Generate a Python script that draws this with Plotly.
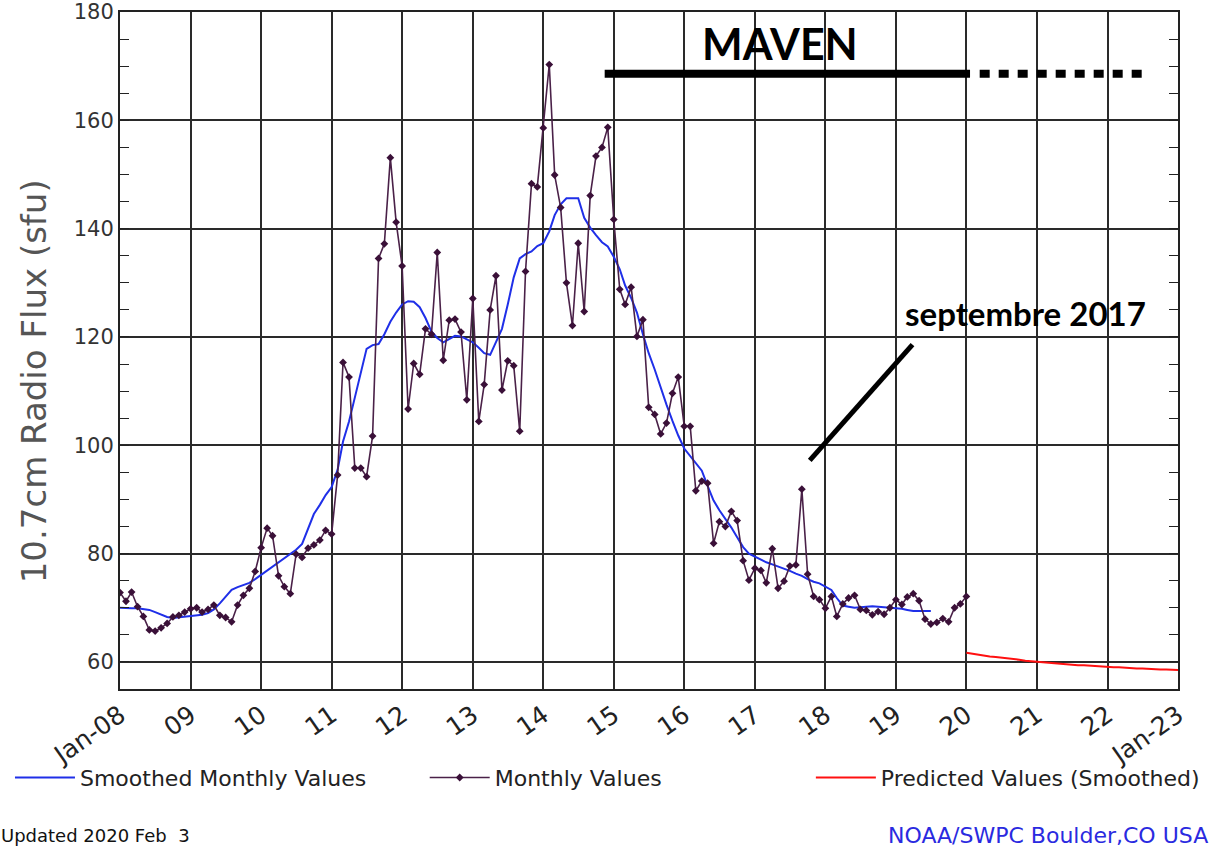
import pandas as pd
import plotly.graph_objects as go

# Observed monthly 10.7cm flux, Jan 2008 .. Jan 2020 (sfu)
monthly_values = [
    72.8, 71.2, 72.9, 70.2, 68.4, 65.9, 65.7, 66.3, 67.1, 68.3, 68.6, 69.2,
    69.8, 70.0, 69.2, 69.7, 70.5, 68.6, 68.2, 67.4, 70.5, 72.3, 73.6, 76.7,
    81.1, 84.7, 83.3, 75.9, 73.9, 72.6, 79.9, 79.3, 81.0, 81.6, 82.5, 84.3,
    83.6, 94.5, 115.3, 112.6, 95.8, 95.8, 94.2, 101.7, 134.5, 137.2, 153.1, 141.2,
    133.1, 106.7, 115.1, 113.1, 121.5, 120.5, 135.6, 115.7, 123.1, 123.3, 120.9, 108.4,
    127.1, 104.4, 111.2, 125.0, 131.3, 110.2, 115.6, 114.7, 102.6, 132.1, 148.3, 147.7,
    158.6, 170.3, 149.9, 143.9, 130.0, 122.1, 137.3, 124.7, 146.1, 153.4, 155.0, 158.7,
    141.7, 128.8, 126.0, 129.2, 120.1, 123.2, 107.0, 105.7, 102.1, 104.1, 109.6, 112.6,
    103.5, 103.5, 91.6, 93.4, 93.0, 81.9, 85.9, 85.0, 87.8, 86.1, 78.7, 75.1,
    77.3, 76.9, 74.6, 80.9, 73.6, 74.9, 77.7, 77.9, 91.9, 76.2, 72.1, 71.5,
    69.9, 72.1, 68.4, 70.7, 71.8, 72.3, 69.7, 69.5, 68.7, 69.3, 68.8, 70.0,
    71.5, 70.6, 72.0, 72.6, 71.3, 67.9, 67.0, 67.3, 68.0, 67.4, 70.0, 70.7,
    72.1,
]

# 13-month smoothed values, Jan 2008 .. Jul 2019
smoothed_values = [
    70.0, 69.9, 69.9, 69.9, 69.8, 69.6, 69.2, 68.8, 68.3, 68.1, 68.2, 68.3,
    68.4, 68.5, 68.7, 69.0, 69.7, 70.8, 72.0, 73.3, 73.8, 74.2, 74.6, 75.3,
    76.1, 76.8, 77.6, 78.4, 79.2, 79.9, 80.7, 81.8, 84.5, 87.3, 89.0, 90.8,
    92.3, 95.5, 100.7, 104.4, 108.8, 113.5, 117.8, 118.5, 118.7, 120.5, 122.8, 124.5,
    126.0, 126.6, 126.5, 125.5, 123.5, 121.0, 119.8, 119.0, 119.6, 120.2, 120.1, 119.6,
    119.0, 118.0, 117.0, 116.7, 119.0, 121.5, 126.0, 131.0, 134.5, 135.3, 135.8, 136.8,
    137.3, 139.5, 142.5, 144.5, 145.6, 145.6, 145.6, 142.0, 140.2, 138.8, 137.5, 136.7,
    134.8, 132.5, 129.5, 127.2, 124.5, 120.5, 117.0, 114.0, 110.6, 107.5, 104.5, 101.8,
    99.4, 98.0, 96.5, 95.3, 92.5, 89.8, 88.0, 86.5, 84.8, 83.0, 81.2, 80.0,
    79.4, 78.9, 78.4, 78.0, 77.6, 77.3, 76.8, 76.3, 75.9, 75.3, 74.8, 74.5,
    73.9, 73.3, 71.8, 70.4, 70.2, 70.0, 70.1, 70.2, 70.3, 70.2, 70.1, 70.0,
    70.0, 69.8, 69.6, 69.4, 69.4, 69.4, 69.4,
]

# Predicted smoothed values, Jan 2020 .. Jan 2023
predicted_values = [
    61.7, 61.5, 61.3, 61.2, 61.0, 60.9, 60.8, 60.6, 60.5, 60.4, 60.2, 60.1,
    60.0, 59.9, 59.8, 59.8, 59.7, 59.6, 59.5, 59.4, 59.4, 59.3, 59.2, 59.2,
    59.1, 59.0, 59.0, 58.9, 58.9, 58.8, 58.8, 58.7, 58.7, 58.6, 58.6, 58.5,
    58.5,
]

tick_years = list(range(2008, 2024))
tick_labels = ["Jan-08", "09", "10", "11", "12", "13", "14", "15", "16",
               "17", "18", "19", "20", "21", "22", "Jan-23"]

monthly_dates = pd.date_range("2008-01-01", periods=len(monthly_values), freq="MS")
smoothed_dates = pd.date_range("2008-01-01", periods=len(smoothed_values), freq="MS")
predicted_dates = pd.date_range("2020-01-01", periods=len(predicted_values), freq="MS")

fig = go.Figure()

fig.add_trace(go.Scatter(
    x=smoothed_dates, y=smoothed_values, mode="lines",
    name="Smoothed Monthly Values", legend="legend",
    line=dict(color="#1f2fe8", width=2),
))
fig.add_trace(go.Scatter(
    x=monthly_dates, y=monthly_values, mode="lines+markers",
    name="Monthly Values", legend="legend2",
    line=dict(color="#4a2148", width=1.6),
    marker=dict(symbol="diamond", size=6, color="#3a1038"),
))
fig.add_trace(go.Scatter(
    x=predicted_dates, y=predicted_values, mode="lines",
    name="Predicted Values (Smoothed)", legend="legend3",
    line=dict(color="#ff1010", width=2),
))

# MAVEN mission bar and "septembre 2017" pointer
fig.add_shape(type="line", xref="x", yref="y",
              x0="2014-11-15", x1="2020-01-20", y0=168.6, y1=168.6,
              line=dict(color="black", width=8))
fig.add_shape(type="line", xref="x", yref="y",
              x0="2020-03-10", x1="2022-08-01", y0=168.6, y1=168.6,
              line=dict(color="black", width=8, dash="10px,9px"))
fig.add_shape(type="line", xref="x", yref="y",
              x0="2017-10-12", x1="2019-03-28", y0=97.2, y1=118.6,
              line=dict(color="black", width=5))

fig.add_annotation(x="2017-05-12", y=174.2, xref="x", yref="y",
                   text="<b>MAVEN</b>", showarrow=False,
                   font=dict(family="Lato", size=43, color="black"))
fig.add_annotation(x="2019-02-06", y=124.4, xref="x", yref="y",
                   text="<b>septembre 2017</b>", showarrow=False, xanchor="left",
                   font=dict(family="Lato", size=33, color="black"))

# y-axis title placed as rotated text (sits a little below the plot centre)
fig.add_annotation(x=-0.081, y=0.455, xref="paper", yref="paper",
                   text="10.7cm Radio Flux (sfu)", showarrow=False, textangle=-90,
                   xanchor="center", yanchor="middle",
                   font=dict(family="DejaVu Sans", size=34, color="#555"))

fig.add_annotation(x=-0.1145, y=-0.217, xref="paper", yref="paper",
                   text="Updated 2020 Feb  3", showarrow=False,
                   xanchor="left", yanchor="middle",
                   font=dict(family="DejaVu Sans", size=18, color="#111"))
fig.add_annotation(x=1.03, y=-0.217, xref="paper", yref="paper",
                   text="NOAA/SWPC Boulder,CO USA", showarrow=False,
                   xanchor="right", yanchor="middle",
                   font=dict(family="DejaVu Sans", size=22, color="#2a2ae0"))

legend_style = dict(
    orientation="h", y=-0.1, yanchor="top", xanchor="left",
    itemwidth=60, font=dict(size=22, color="#222"), bgcolor="rgba(0,0,0,0)",
)

fig.update_layout(
    width=1230, height=850,
    margin=dict(l=120, r=52, t=12, b=161, autoexpand=False),
    paper_bgcolor="white", plot_bgcolor="white",
    font=dict(family="DejaVu Sans", color="#222"),
    legend=dict(x=-0.104, **legend_style),
    legend2=dict(x=0.288, **legend_style),
    legend3=dict(x=0.653, **legend_style),
    showlegend=True,
)

fig.update_xaxes(
    type="date", range=["2008-01-01", "2023-01-01"],
    tickvals=[f"{y}-01-01" for y in tick_years], ticktext=tick_labels,
    tickangle=-35, tickfont=dict(size=25, color="#222"),
    showgrid=True, gridcolor="#2a2a2a", gridwidth=1.5,
    showline=True, mirror=True, linecolor="#222", linewidth=2,
    ticks="", zeroline=False, automargin=False,
)
fig.update_yaxes(
    range=[55, 180], tickvals=list(range(60, 181, 20)),
    tickfont=dict(size=21, color="#333"), ticklabeloverflow="allow",
    showgrid=True, gridcolor="#2a2a2a", gridwidth=1.5,
    showline=True, mirror="allticks", linecolor="#222", linewidth=2,
    ticks="inside", ticklen=9, tickcolor="#222",
    minor=dict(dtick=5, ticks="inside", ticklen=9, tickcolor="#222", showgrid=False),
    zeroline=False, automargin=False,
)

# drop the browser's default page margin so the figure fills the window
fig.write_html("out.html", config={"displayModeBar": False},
               post_script="document.body.style.margin='0';")
